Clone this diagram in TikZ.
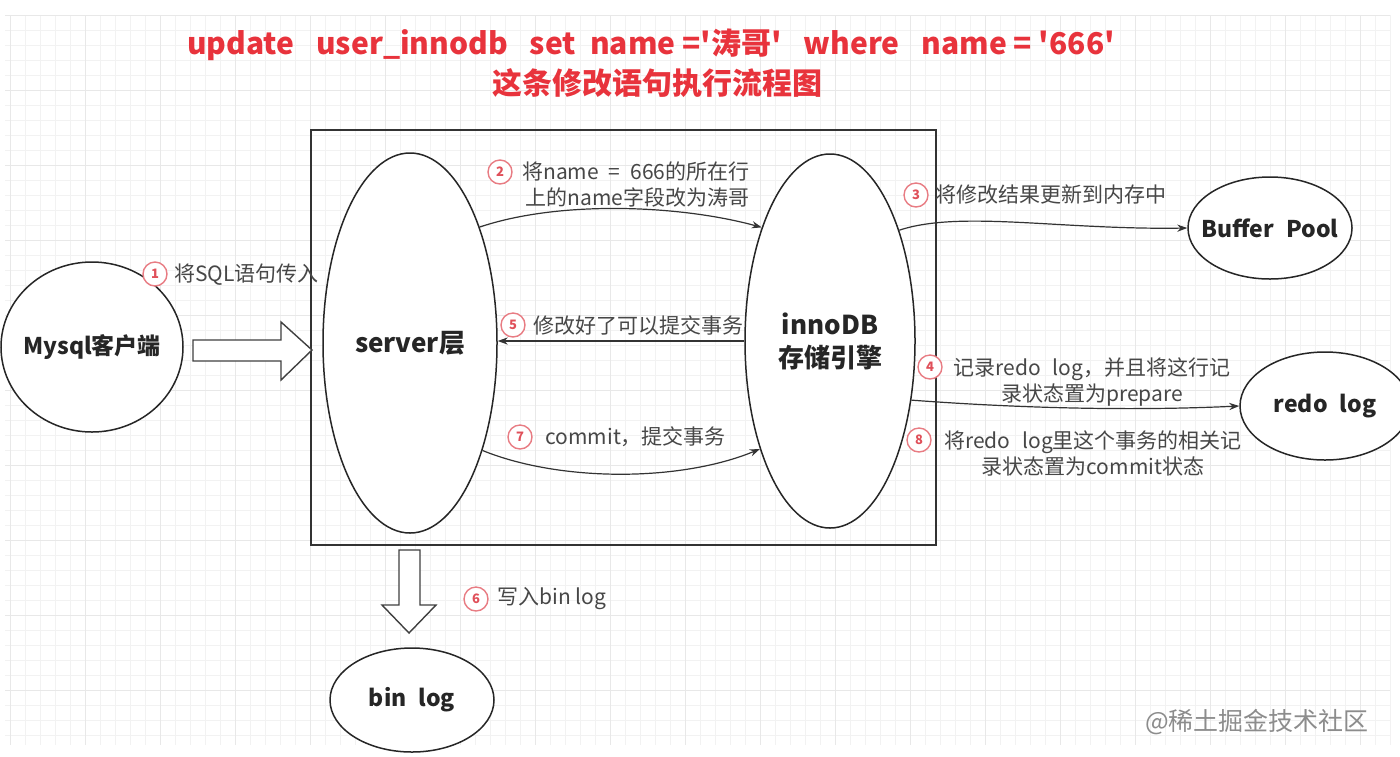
\documentclass[tikz,border=0pt]{standalone}
\usepackage{fontspec}
\setmainfont{Noto Sans CJK SC}
\usetikzlibrary{shapes.geometric,arrows.meta}

\definecolor{titlered}{HTML}{E8333C}
\definecolor{numred}{HTML}{E0505A}
\definecolor{notegray}{HTML}{474747}

\tikzset{
    store/.style={ellipse, draw=black!85, line width=0.75pt, fill=white, inner xsep=-12pt, inner ysep=0pt,
        text=black!85, font=\bfseries\fontsize{11.5}{16}\selectfont, align=center},
    bigstore/.style={store, font=\bfseries\fontsize{13}{16.5}\selectfont},
    num/.style={circle, draw=numred!75, line width=0.7pt, fill=white, inner sep=0pt,
        minimum size=12pt, text=numred, font=\bfseries\fontsize{6.5}{6.5}\selectfont},
    note/.style={text=notegray, inner sep=0pt, font=\fontsize{10.5}{13}\selectfont},
    flow/.style={draw=black!80, line width=0.6pt, -{Stealth[length=5pt,width=3.6pt]}},
    fatarrow/.style={draw=black!75, line width=0.7pt, fill=white, line join=miter},
}

\begin{document}
\begin{tikzpicture}[x=0.5pt, y=-0.5pt]
        \useasboundingbox (0,0) rectangle (1400,756);
        \fill[white] (0,0) rectangle (1400,756);

        % Faint grid paper
        \foreach \gx in {10,25,...,1390}
            \draw[black!5, line width=0.4pt] (\gx,15) -- (\gx,745);
        \foreach \gy in {15,30,...,745}
            \draw[black!5, line width=0.4pt] (5,\gy) -- (1390,\gy);
        \foreach \gx in {10,85,...,1390}
            \draw[black!9, line width=0.5pt] (\gx,15) -- (\gx,745);
        \foreach \gy in {15,90,...,745}
            \draw[black!9, line width=0.5pt] (5,\gy) -- (1390,\gy);

        % Title
        \node[text=titlered, font=\bfseries\fontsize{15}{18}\selectfont] (title) at (651,45)
            {update\hspace{11pt}user\_innodb\hspace{11pt}set\hspace{7pt}name =\textquotesingle 涛哥\textquotesingle\hspace{11pt}where\hspace{11pt}name = \textquotesingle 666\textquotesingle};
        \node[text=titlered, font=\bfseries\fontsize{15}{18}\selectfont] (subtitle) at (657,83)
            {这条修改语句执行流程图};

        % MySQL server box with its two parts
        \node[draw=black!80, line width=0.75pt, minimum width=312.5pt, minimum height=207.5pt] (box) at (623.5,337.5) {};
        \node[bigstore, minimum width=87pt, minimum height=190pt] (server) at (410,343) {server层};
        \node[bigstore, minimum width=85pt, minimum height=187pt] (inno) at (830,341) {innoDB\\存储引擎};

        % Outer parts
        \node[store, minimum width=91pt, minimum height=85pt] (client) at (92,347) {Mysql客户端};
        \node[store, minimum width=82pt, minimum height=51pt] (buffer) at (1270,228) {Buffer\hspace{6pt}Pool};
        \node[store, minimum width=85pt, minimum height=54pt] (redo) at (1325,406) {redo\hspace{6pt}log};
        \node[store, minimum width=82pt, minimum height=52pt] (binlog) at (412,700) {bin\hspace{6pt}log};

        % Block arrows
        \draw[fatarrow] (193,340) -- (281,340) -- (281,322) -- (312,350)
            -- (281,380) -- (281,361) -- (193,361) -- cycle;
        \draw[fatarrow] (399,550) -- (420,550) -- (420,605) -- (436,605)
            -- (409,633) -- (382,605) -- (399,605) -- cycle;

        % Steps
        \draw[flow] (server.59) .. controls (560,200) and (680,205) .. (inno.121);
        \draw[flow] (inno.58) .. controls (960,210) and (1060,230) .. (buffer.west);
        \draw[flow] (inno.west) -- (inno.west -| server.east);
        \draw[flow] (inno.-36) .. controls (990,406) and (1110,412) .. (redo.west);
        \draw[flow] (server.-56) .. controls (560,482) and (680,482) .. (inno.-123);

        % Step labels
        \node[num] (n1) at (155,274) {1};
        \node[note, anchor=west] (t1) at (174,275) {将SQL语句传入};
        \node[num] (n2) at (500,172) {2};
        \node[note, anchor=east, align=right] (t2) at (750,185) {将name\hspace{5pt}=\hspace{5pt}666的所在行\\上的name字段改为涛哥};
        \node[num] (n3) at (916,195) {3};
        \node[note, anchor=west] (t3) at (935,195) {将修改结果更新到内存中};
        \node[num] (n4) at (930,367) {4};
        \node[note, align=center] (t4) at (1092,382) {记录redo\hspace{6pt}log，并且将这行记\\录状态置为prepare};
        \node[num] (n5) at (513,325) {5};
        \node[note, anchor=west] (t5) at (533,325) {修改好了可以提交事务};
        \node[num] (n6) at (476,599) {6};
        \node[note, anchor=west] (t6) at (497,599) {写入bin log};
        \node[num] (n7) at (520,437) {7};
        \node[note, anchor=west] (t7) at (545,437) {commit，提交事务};
        \node[num] (n8) at (919,440) {8};
        \node[note, align=center] (t8) at (1093,453) {将redo\hspace{6pt}log里这个事务的相关记\\录状态置为commit状态};

        % Watermark
        \node[text=black!45, anchor=east, font=\fontsize{12.5}{15}\selectfont] (mark) at (1376,722) {@稀土掘金技术社区};
    \end{tikzpicture}
\end{document}
